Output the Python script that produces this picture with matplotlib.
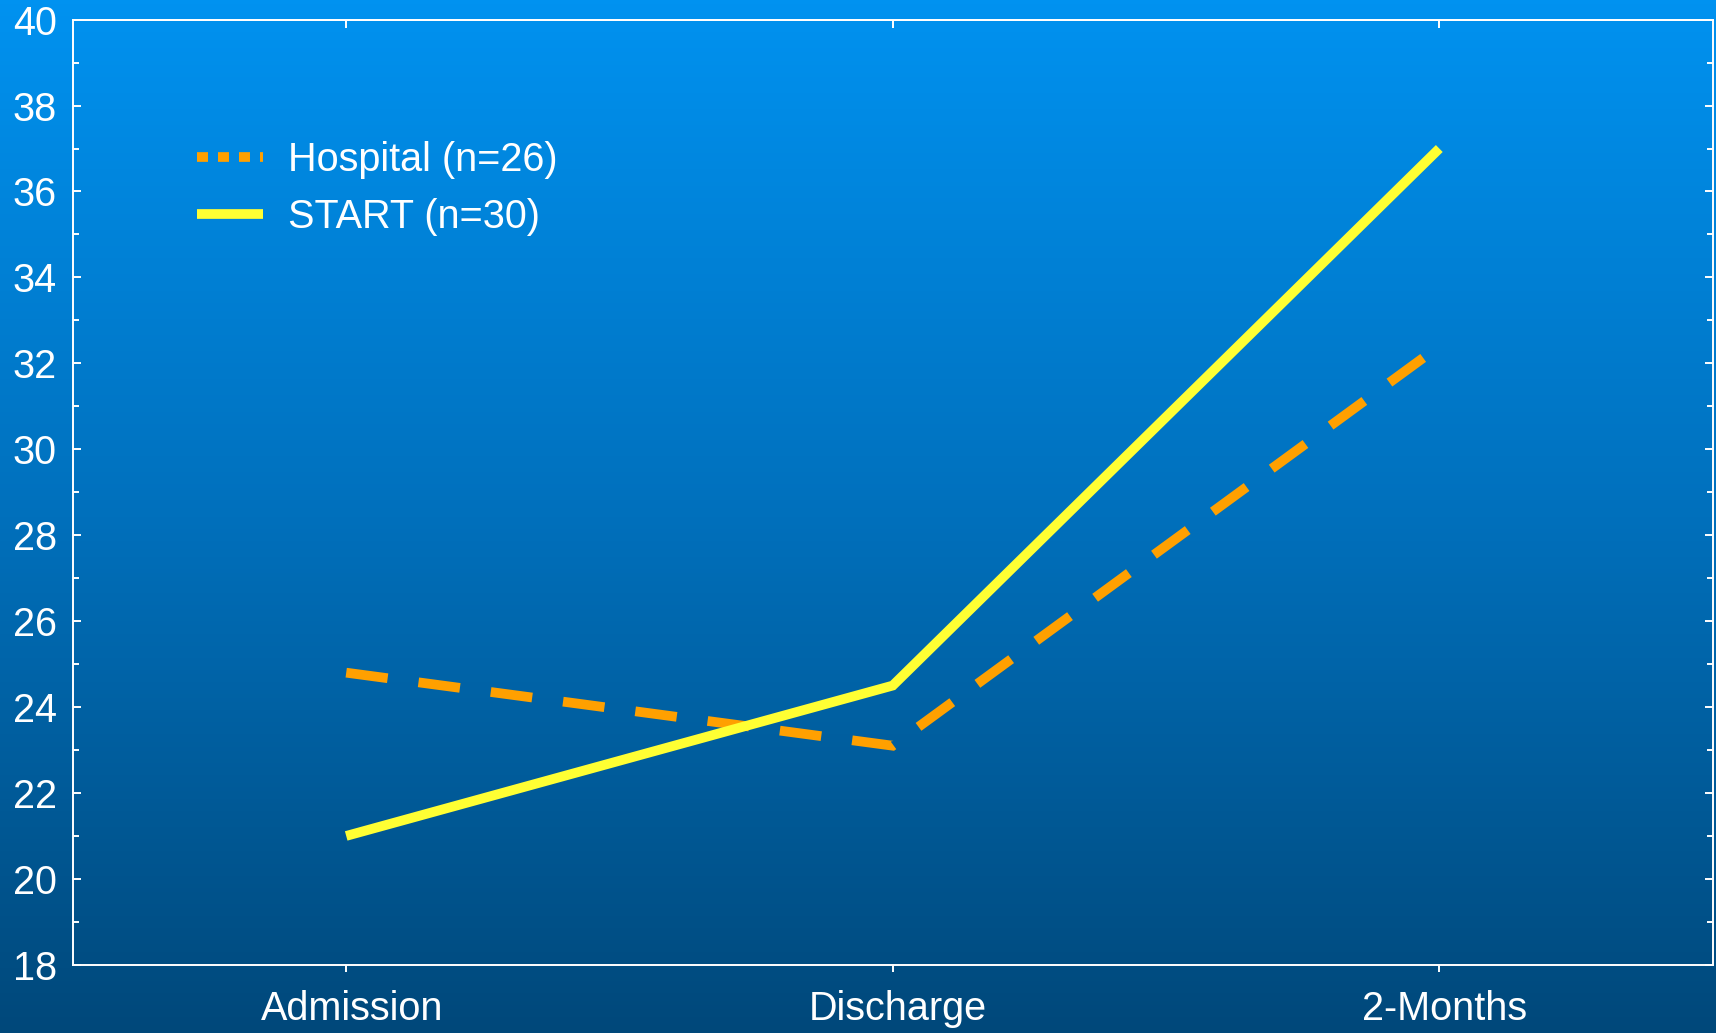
import numpy as np
import matplotlib
matplotlib.use("Agg")
import matplotlib.pyplot as plt
import matplotlib.transforms as mtransforms
from matplotlib.lines import Line2D
from matplotlib.colors import LinearSegmentedColormap

# --- data ---
timepoints = ["Admission", "Discharge", "2-Months"]
hospital = [24.8, 23.1, 32.4]
start = [21.0, 24.5, 37.0]
hospital_label = "Hospital (n=26)"
start_label = "START (n=30)"
y_ticks = [18, 20, 22, 24, 26, 28, 30, 32, 34, 36, 38, 40]

plt.rcParams.update({
    'font.family': ['Liberation Sans', 'DejaVu Sans'],
    'font.size': 28.5,
    'text.color': 'white',
    'xtick.color': 'white',
    'ytick.color': 'white',
    'axes.edgecolor': 'white',
    'axes.linewidth': 1.4,
})

fig = plt.figure(figsize=(17.16, 10.33), dpi=100)

# background gradient over the whole figure
bg = fig.add_axes([0, 0, 1, 1], zorder=-10)
grad_cmap = LinearSegmentedColormap.from_list(
    'bg', [(0.0, '#00487a'), (0.5, '#0070bc'), (1.0, '#0092f0')])
bg.imshow(np.linspace(0, 1, 256).reshape(-1, 1), aspect='auto', cmap=grad_cmap,
          origin='lower', extent=[0, 1, 0, 1])
bg.set_axis_off()

ax = fig.add_axes([0.0425, 0.066, 0.9555, 0.915])
ax.set_facecolor('none')

lw = 7.0
x = np.arange(len(timepoints))
ax.plot(x, hospital, color='#ffa000', linewidth=lw, dashes=(4.3, 3.2),
        dash_capstyle='butt', dash_joinstyle='miter', zorder=3)
ax.plot(x, start, color='#ffff33', linewidth=lw, solid_capstyle='butt',
        solid_joinstyle='miter', zorder=4)

ax.set_xlim(-0.5, 2.5)
ax.set_ylim(18, 40)
ax.set_xticks(x)
ax.set_xticklabels(timepoints)
ax.set_yticks(y_ticks)
ax.set_yticks(np.arange(19, 40, 2), minor=True)

ax.tick_params(axis='y', which='both', direction='in', left=True, right=True,
               length=6, width=1.4, pad=11.5, labelsize=28.5)
ax.tick_params(axis='y', which='minor', length=4)
ax.tick_params(axis='x', which='both', direction='out', bottom=True, top=False,
               length=5, width=1.4, pad=13, labelsize=28.5)

# category labels sit a few pixels right of their ticks in the reference
shift = mtransforms.ScaledTranslation(4 / 72, 0, fig.dpi_scale_trans)
for lab in ax.get_xticklabels():
    lab.set_transform(lab.get_transform() + shift)

# small inward ticks on the top spine at the category positions
ax_top = ax.secondary_xaxis('top')
ax_top.set_xticks(x)
ax_top.set_xticklabels([])
ax_top.tick_params(direction='in', length=6, width=1.4, colors='white')

handles = [
    Line2D([], [], color='#ffa000', linewidth=lw, dashes=(1.13, 1.03),
           dash_capstyle='butt'),
    Line2D([], [], color='#ffff33', linewidth=lw, solid_capstyle='butt'),
]
leg = fig.legend(handles, [hospital_label, start_label], loc='upper left',
                 bbox_to_anchor=(0.1148, 0.8635), frameon=False, borderpad=0,
                 borderaxespad=0, handlelength=1.67, handletextpad=0.63,
                 labelspacing=0.47, fontsize=28.5)
for t in leg.get_texts():
    t.set_color('white')

fig.savefig("out.png", dpi=100)
